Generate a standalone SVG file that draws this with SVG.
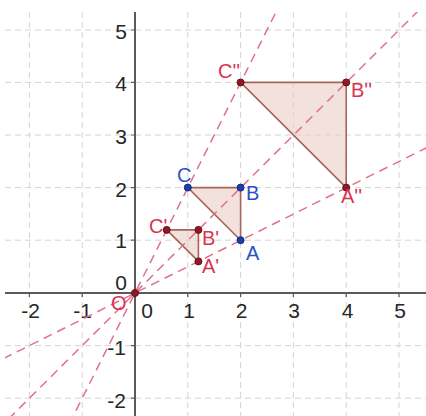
<svg xmlns="http://www.w3.org/2000/svg" width="426" height="416" viewBox="0 0 426 416">
<defs>
<style>
.grid{stroke:#d4d4d4;stroke-width:1;stroke-dasharray:6 4;fill:none}
.axis{stroke:#5a5a5a;stroke-width:2;fill:none}
.tick{stroke:#5a5a5a;stroke-width:1.2}
.ray{stroke:#e0708c;stroke-width:1.5;stroke-dasharray:9 6;fill:none}
.tri{fill:#e9cdc6;fill-opacity:0.6;stroke:#a5675a;stroke-width:1.6;stroke-linejoin:round}
.num{font-family:"Liberation Sans",Arial,sans-serif;font-size:21px;fill:#262626}
.lbl{font-family:"Liberation Sans",Arial,sans-serif;font-size:20px}
.red{fill:#d7344f}
.blue{fill:#2a50c8}
.pr{fill:#8e1a26;stroke:#6a0f18;stroke-width:1}
.pb{fill:#1d3ea8;stroke:#132c80;stroke-width:1}
</style>
<clipPath id="area"><rect x="5" y="12" width="421" height="404"/></clipPath>
</defs>
<rect width="426" height="416" fill="#ffffff"/>
<g id="grid">
<path class="grid" d="M29.4 12V416M82.2 12V416M187.8 12V416M240.6 12V416M293.4 12V416M346.2 12V416M399 12V416"/>
<path class="grid" d="M5 30H426M5 82.4H426M5 135H426M5 187.6H426M5 240.2H426M5 345.6H426M5 398.2H426"/>
</g>
<g id="axes">
<path class="axis" d="M5 293H426M135 12V416"/>
<path class="tick" d="M29.4 293v4M82.2 293v4M187.8 293v4M240.6 293v4M293.4 293v4M346.2 293v4M399 293v4"/>
<path class="tick" d="M135 30h-4M135 82.4h-4M135 135h-4M135 187.6h-4M135 240.2h-4M135 345.6h-4M135 398.2h-4"/>
<g class="num" text-anchor="middle">
<text x="30.5" y="318">-2</text>
<text x="82.5" y="318">-1</text>
<text x="147" y="318">0</text>
<text x="189" y="318">1</text>
<text x="241.5" y="318">2</text>
<text x="294" y="318">3</text>
<text x="347.5" y="318">4</text>
<text x="400" y="318">5</text>
</g>
<g class="num" text-anchor="end">
<text x="127" y="39">5</text>
<text x="127" y="91">4</text>
<text x="127" y="144">3</text>
<text x="127" y="197">2</text>
<text x="127" y="248">1</text>
<text x="127" y="290">0</text>
<text x="126" y="355">-1</text>
<text x="126" y="408">-2</text>
</g>
</g>
<g id="triangle-ABC">
<polygon class="tri" points="240.6,240.2 240.6,187.6 187.8,187.6"/>
</g>
<g id="triangle-A1B1C1">
<polygon class="tri" points="198.4,261.4 198.4,229.9 166.7,229.9"/>
</g>
<g id="triangle-A2B2C2">
<polygon class="tri" points="346.2,187.6 346.2,82.4 240.6,82.4"/>
</g>
<g id="connectors" clip-path="url(#area)">
<path class="ray" d="M-23.4 371.9L451.8 135.2"/>
<path class="ray" d="M-23.4 450.8L451.8 -22.6"/>
<path class="ray" d="M55.8 450.8L293.4 -22.6"/>
</g>
<g id="point-O">
<circle class="pr" cx="135" cy="293" r="3.5"/>
<text class="lbl red" x="111" y="310" font-size="18">O</text>
</g>
<g id="point-A"><circle class="pb" cx="240.6" cy="240.2" r="3.5"/><text class="lbl blue" x="246" y="260">A</text></g>
<g id="point-B"><circle class="pb" cx="240.6" cy="187.6" r="3.5"/><text class="lbl blue" x="246" y="200">B</text></g>
<g id="point-C"><circle class="pb" cx="187.8" cy="187.6" r="3.5"/><text class="lbl blue" x="177" y="182">C</text></g>
<g id="point-A1"><circle class="pr" cx="198.4" cy="261.4" r="3.5"/><text class="lbl red" x="202" y="273">A'</text></g>
<g id="point-B1"><circle class="pr" cx="198.4" cy="229.9" r="3.5"/><text class="lbl red" x="202" y="245">B'</text></g>
<g id="point-C1"><circle class="pr" cx="166.7" cy="229.9" r="3.5"/><text class="lbl red" x="149" y="233">C'</text></g>
<g id="point-A2"><circle class="pr" cx="346.2" cy="187.6" r="3.5"/><text class="lbl red" x="341" y="203">A''</text></g>
<g id="point-B2"><circle class="pr" cx="346.2" cy="82.4" r="3.5"/><text class="lbl red" x="351" y="97">B''</text></g>
<g id="point-C2"><circle class="pr" cx="240.6" cy="82.4" r="3.5"/><text class="lbl red" x="218" y="78">C''</text></g>
</svg>
